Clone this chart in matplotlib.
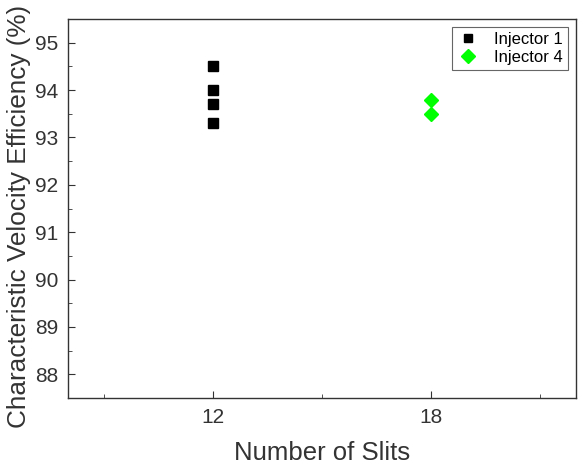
import matplotlib
matplotlib.use("Agg")
from matplotlib import pyplot as plt
from matplotlib.ticker import MultipleLocator, FixedLocator

plt.rcParams["font.family"] = ["Liberation Sans", "DejaVu Sans"]

# data
inj1_slits = [12, 12, 12, 12]
inj1_eff = [94.5, 94.0, 93.7, 93.3]
inj4_slits = [18, 18]
inj4_eff = [93.8, 93.5]
xticks = [12, 18]
xminor = [9, 15, 21]

fig = plt.figure(figsize=(5.81, 4.65), dpi=100)
ax = fig.add_axes([68 / 581, 1 - 398 / 465, (576 - 68) / 581, (398 - 19) / 465])

ax.plot(inj1_slits, inj1_eff, linestyle="none", marker="s", markersize=7,
        color="black", label="Injector 1")
ax.plot(inj4_slits, inj4_eff, linestyle="none", marker="D", markersize=7.5,
        color="#00ff00", label="Injector 4")

ax.set_xlim(8, 22)
ax.set_ylim(87.5, 95.5)
ax.xaxis.set_major_locator(FixedLocator(xticks))
ax.xaxis.set_minor_locator(FixedLocator(xminor))
ax.yaxis.set_major_locator(MultipleLocator(1))
ax.yaxis.set_minor_locator(MultipleLocator(0.5))
ax.tick_params(which="both", direction="in", labelsize=15, colors="#333333")
ax.tick_params(which="major", length=5, pad=7)
ax.tick_params(which="minor", length=3)
for s in ax.spines.values():
    s.set_color("#333333")
    s.set_linewidth(1.0)

ax.set_xlabel("Number of Slits", fontsize=18.5, color="#333333")
ax.xaxis.set_label_coords(0.5, -0.113)
ax.set_ylabel("Characteristic Velocity Efficiency (%)", fontsize=18.8, color="#333333")
ax.yaxis.set_label_coords(-0.072, 0.48)

leg = ax.legend(loc="upper right", fontsize=12, handletextpad=0.9,
                borderpad=0.3, labelspacing=0.15, fancybox=False, framealpha=1,
                handlelength=1.3, markerscale=0.9, borderaxespad=0.5)
leg.get_frame().set_edgecolor("#666666")
leg.get_frame().set_linewidth(0.8)

fig.savefig("out.png", dpi=100)
